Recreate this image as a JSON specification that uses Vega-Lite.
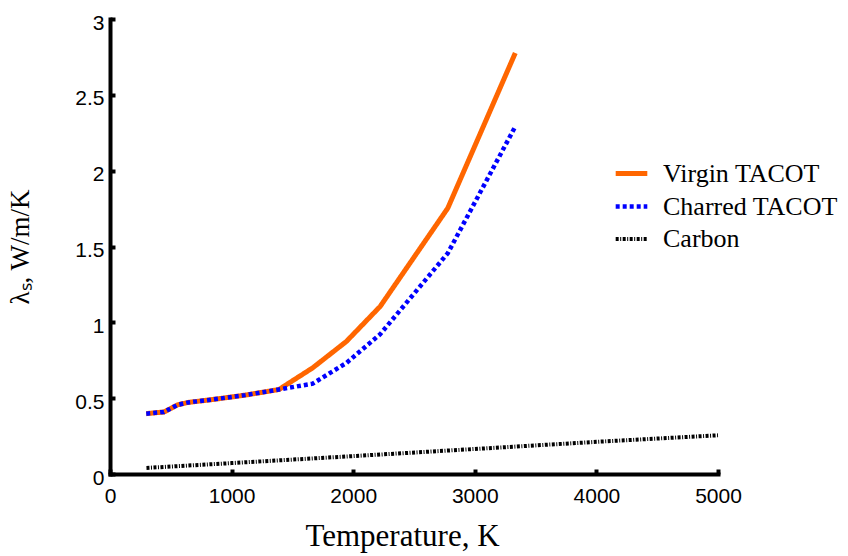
{
  "$schema": "https://vega.github.io/schema/vega-lite/v6.json",
  "autosize": "none",
  "width": 608,
  "height": 455,
  "padding": {"left": 110, "top": 19, "right": 130, "bottom": 82},
  "background": "white",
  "config": {
    "view": {"stroke": null},
    "axis": {
      "grid": false,
      "domainColor": "black",
      "domainWidth": 4,
      "domainCap": "square",
      "tickColor": "black",
      "tickWidth": 4,
      "tickSize": -5,
      "labelFont": "Liberation Sans",
      "labelFontSize": 21,
      "labelColor": "black",
      "titleFont": "Liberation Serif",
      "titleFontWeight": "normal",
      "titleColor": "black",
      "titleFontSize": 27
    }
  },
  "data": {
    "values": [
      {"T": 298, "k": 0.398, "series": "Virgin TACOT"},
      {"T": 444, "k": 0.409, "series": "Virgin TACOT"},
      {"T": 556, "k": 0.456, "series": "Virgin TACOT"},
      {"T": 644, "k": 0.472, "series": "Virgin TACOT"},
      {"T": 833, "k": 0.490, "series": "Virgin TACOT"},
      {"T": 1111, "k": 0.520, "series": "Virgin TACOT"},
      {"T": 1389, "k": 0.557, "series": "Virgin TACOT"},
      {"T": 1667, "k": 0.700, "series": "Virgin TACOT"},
      {"T": 1944, "k": 0.874, "series": "Virgin TACOT"},
      {"T": 2222, "k": 1.105, "series": "Virgin TACOT"},
      {"T": 2778, "k": 1.753, "series": "Virgin TACOT"},
      {"T": 3333, "k": 2.776, "series": "Virgin TACOT"},
      {"T": 298, "k": 0.398, "series": "Charred TACOT"},
      {"T": 444, "k": 0.409, "series": "Charred TACOT"},
      {"T": 556, "k": 0.456, "series": "Charred TACOT"},
      {"T": 644, "k": 0.472, "series": "Charred TACOT"},
      {"T": 833, "k": 0.490, "series": "Charred TACOT"},
      {"T": 1111, "k": 0.520, "series": "Charred TACOT"},
      {"T": 1389, "k": 0.557, "series": "Charred TACOT"},
      {"T": 1667, "k": 0.596, "series": "Charred TACOT"},
      {"T": 1944, "k": 0.732, "series": "Charred TACOT"},
      {"T": 2222, "k": 0.922, "series": "Charred TACOT"},
      {"T": 2778, "k": 1.456, "series": "Charred TACOT"},
      {"T": 3333, "k": 2.291, "series": "Charred TACOT"},
      {"T": 300, "k": 0.040, "series": "Carbon"},
      {"T": 1000, "k": 0.072, "series": "Carbon"},
      {"T": 2000, "k": 0.118, "series": "Carbon"},
      {"T": 3000, "k": 0.165, "series": "Carbon"},
      {"T": 4000, "k": 0.212, "series": "Carbon"},
      {"T": 5000, "k": 0.255, "series": "Carbon"}
    ]
  },
  "mark": {"type": "line", "strokeCap": "butt", "strokeJoin": "miter"},
  "encoding": {
    "x": {
      "field": "T", "type": "quantitative",
      "scale": {"domain": [0, 5000], "nice": false},
      "axis": {"values": [0, 1000, 2000, 3000, 4000, 5000], "format": "d", "title": "Temperature, K", "titleFontSize": 31, "titleX": 292, "labelPadding": 16, "titlePadding": 15, "labelFlush": false}
    },
    "y": {
      "field": "k", "type": "quantitative",
      "scale": {"domain": [0, 3], "nice": false},
      "axis": {"values": [0, 0.5, 1, 1.5, 2, 2.5, 3], "format": "~g", "title": "λₛ, W/m/K", "labelPadding": 11, "titlePadding": 40, "labelOffset": 4, "labelFlush": false}
    },
    "color": {
      "field": "series", "type": "nominal",
      "scale": {"domain": ["Virgin TACOT", "Charred TACOT", "Carbon"], "range": ["#FF6600", "#0000FF", "#000000"]},
      "legend": {
        "title": null, "orient": "none", "legendX": 503, "legendY": 136,
        "labelFont": "Liberation Serif", "labelFontSize": 26, "labelColor": "black", "labelLimit": 400,
        "symbolType": "stroke", "symbolSize": 1000, "symbolStrokeWidth": 4,
        "labelOffset": 13, "rowPadding": 1
      }
    },
    "strokeDash": {
      "field": "series", "type": "nominal",
      "scale": {"domain": ["Virgin TACOT", "Charred TACOT", "Carbon"], "range": [[1, 0], [4, 3], [3, 1.5, 1, 1.5]]},
      "legend": null
    },
    "strokeWidth": {
      "field": "series", "type": "nominal",
      "scale": {"domain": ["Virgin TACOT", "Charred TACOT", "Carbon"], "range": [5, 4, 4]},
      "legend": null
    }
  }
}
